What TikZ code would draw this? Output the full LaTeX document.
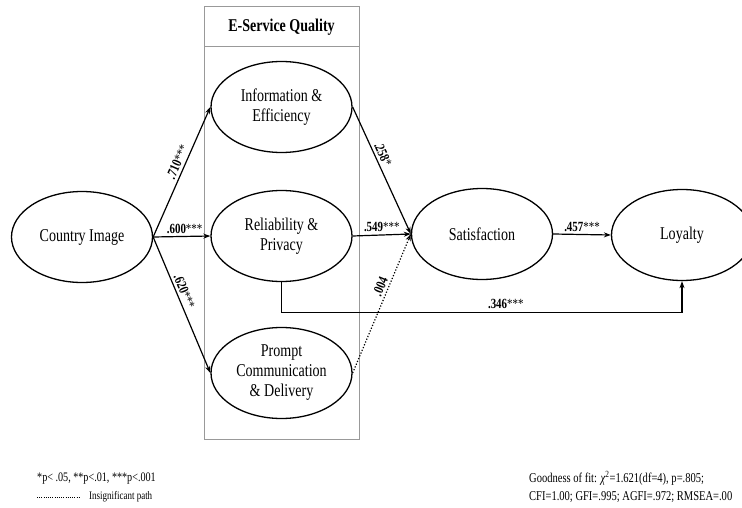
\documentclass[tikz,border=0pt]{standalone}
\usepackage{fontspec}
\setmainfont{Liberation Serif}[FakeStretch=0.78]
\usetikzlibrary{arrows.meta,shapes.geometric}
\begin{document}
\begin{tikzpicture}[x=1pt,y=-1pt,
      konstruk/.style={draw,ellipse,line width=1.3pt,inner sep=0pt,minimum width=141pt,minimum height=91pt,
        align=center,font=\fontsize{18}{20}\selectfont},
      jalur/.style={line width=1.2pt,-{Stealth[length=7pt,width=5pt]}},
      koef/.style={font=\fontsize{14}{16}\selectfont,inner sep=2.5pt},
      catatan/.style={font=\fontsize{13}{15}\selectfont,anchor=west,inner sep=0pt}]
    \useasboundingbox (0,0) rectangle (742,508);
    % Kotak E-Service Quality
    \draw[black!40,line width=0.8pt] (204,6) rectangle (359,439);
    \draw[black!40,line width=0.8pt] (204,46) -- (359,46);
    \node[font=\fontsize{18}{20}\selectfont\bfseries] (esq) at (281.5,27) {E-Service Quality};
    % Konstruk
    \node[konstruk] (cimg) at (82,237) {Country Image};
    \node[konstruk] (info) at (281.5,107) {Information \&\\Efficiency};
    \node[konstruk] (rel) at (281.5,236) {Reliability \&\\Privacy};
    \node[konstruk] (prm) at (281.5,373) {Prompt\\Communication\\\& Delivery};
    \node[konstruk] (sat) at (482,234) {Satisfaction};
    \node[konstruk] (loy) at (682,235) {Loyalty};
    % Jalur
    \draw[jalur] (cimg.east) -- node[koef,sloped,above,pos=0.55] {\textbf{.710}***} (info.west);
    \draw[jalur] (cimg.east) -- node[koef,above,pos=0.55] {\textbf{.600}***} (rel.west);
    \draw[jalur] (cimg.east) -- node[koef,sloped,above,pos=0.42] {\textbf{.620}***} (prm.west);
    \draw[jalur] (info.east) -- node[koef,sloped,above,pos=0.4] {\textbf{.258}*} (sat.west);
    \draw[jalur] (rel.east) -- node[koef,above,pos=0.5] {\textbf{.549}***} (sat.west);
    \draw[jalur,dash pattern=on 1.2pt off 1.8pt] (prm.east) -- node[koef,sloped,above,pos=0.6] {\textbf{.004}} (sat.west);
    \draw[jalur] (sat.east) -- node[koef,above,pos=0.5] {\textbf{.457}***} (loy.west);
    \draw[jalur] (rel.south) -- ++(0,30) -| node[koef,above,pos=0.28] {\textbf{.346}***} (loy.south);
    % Keterangan
    \node[catatan] (sig) at (37,479) {*p< .05, **p<.01, ***p<.001};
    \coordinate (ls) at (37,497);
    \coordinate (le) at (79,497);
    \draw[dash pattern=on 1pt off 1.2pt,line width=1pt] (ls) -- (le);
    \node[catatan,font=\fontsize{11.5}{14}\selectfont] (ins) at (89,497) {Insignificant path};
    \node[catatan,align=left,font=\fontsize{13.5}{18}\selectfont,anchor=north west] (gof) at (529,471)
      {Goodness of fit: \textit{χ}\textsuperscript{2}=1.621(df=4), p=.805;\\CFI=1.00; GFI=.995; AGFI=.972; RMSEA=.00};
  \end{tikzpicture}
\end{document}
